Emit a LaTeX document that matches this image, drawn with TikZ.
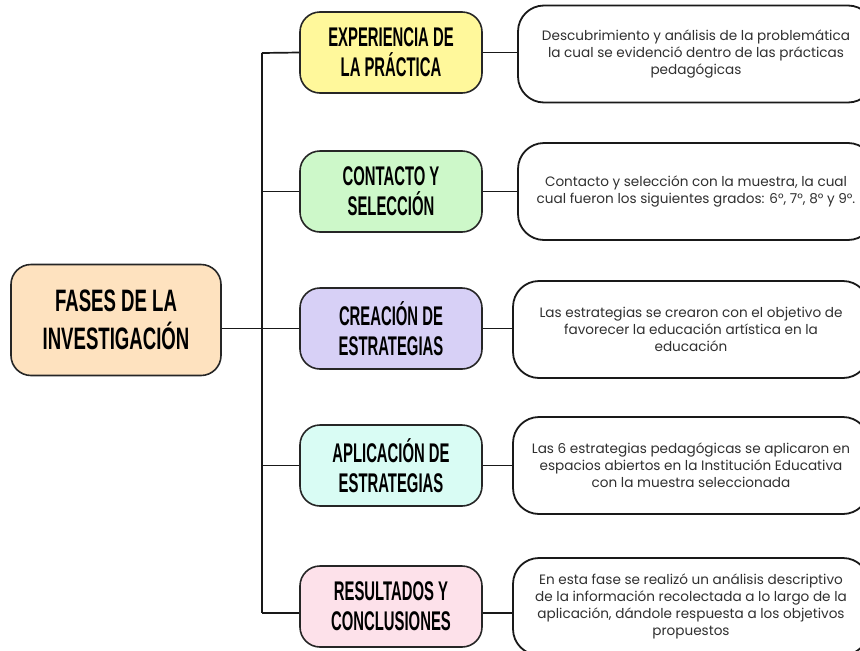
\documentclass[tikz,border=0pt]{standalone}
\usepackage{fontspec}
\setmainfont{Poppins}
\newfontfamily\titlefont[FakeStretch=0.55]{Liberation Sans}
\newfontfamily\maintitlefont[FakeStretch=0.6]{Liberation Sans}
\definecolor{cMain}{HTML}{FEE2BF}
\definecolor{cExp}{HTML}{FFF89B}
\definecolor{cCon}{HTML}{CDF8C9}
\definecolor{cCre}{HTML}{D7D0F6}
\definecolor{cApl}{HTML}{D9FCF4}
\definecolor{cRes}{HTML}{FDE1EA}
\definecolor{txt}{HTML}{303030}
\begin{document}
\begin{tikzpicture}[x=1pt,y=-1pt,
  conn/.style={line width=1.7pt, draw=black!90},
  title/.style={draw=black!85, line width=1.6pt, rounded corners=20pt, minimum width=182pt, minimum height=81pt, align=center, font=\titlefont\bfseries\fontsize{27}{30}\selectfont, inner sep=0pt},
  desc/.style={draw=black!90, line width=1.8pt, rounded corners=26pt, minimum width=356pt, minimum height=97pt, align=center, font=\fontsize{13.6}{17}\selectfont, text=txt, inner sep=0pt}]
\useasboundingbox (0,0) rectangle (860,651);
\fill[white] (0,0) rectangle (860,651);
\clip (0,0) rectangle (860,651);

\node[title, fill=cMain, minimum width=210pt, minimum height=111pt, font=\maintitlefont\bfseries\fontsize{31}{38}\selectfont] (main) at (116,320) {FASES DE LA\\INVESTIGACIÓN};

\node[title, fill=cExp] (exp) at (391,52.5) {EXPERIENCIA DE\\LA PRÁCTICA};
\node[title, fill=cCon] (con) at (391,191.5) {CONTACTO Y\\SELECCIÓN};
\node[title, fill=cCre] (cre) at (391,328.5) {CREACIÓN DE\\ESTRATEGIAS};
\node[title, fill=cApl] (apl) at (391,465.5) {APLICACIÓN DE\\ESTRATEGIAS};
\node[title, fill=cRes] (res) at (391,606.5) {RESULTADOS Y\\CONCLUSIONES};

\node[desc] (dexp) at (696,54) {Descubrimiento y análisis de la problemática\\la cual se evidenció dentro de las prácticas\\pedagógicas};
\node[desc] (dcon) at (696,191.5) {Contacto y selección con la muestra, la cual\\cual fueron los siguientes grados: 6°, 7°, 8° y 9°.};
\node[desc] (dcre) at (691,329.5) {Las estrategias se crearon con el objetivo de\\favorecer la educación artística en la\\educación};
\node[desc] (dapl) at (691,465.5) {Las 6 estrategias pedagógicas se aplicaron en\\espacios abiertos en la Institución Educativa\\con la muestra seleccionada};
\node[desc] (dres) at (691,606.5) {En esta fase se realizó un análisis descriptivo\\de la información recolectada a lo largo de la\\aplicación, dándole respuesta a los objetivos\\propuestos};

\coordinate (top) at (262,53);
\coordinate (bot) at (262,613);
\draw[conn] (top) -- (bot);
\draw[conn] (top) -- (exp.west);
\draw[conn] (con.west -| top) -- (con.west);
\draw[conn] (main.east |- cre.west) -- (cre.west);
\draw[conn] (apl.west -| top) -- (apl.west);
\draw[conn] (bot) -- (bot -| res.west);

\draw[conn] (exp.east) -- (exp.east -| dexp.west);
\draw[conn] (con.east) -- (con.east -| dcon.west);
\draw[conn] (cre.east) -- (cre.east -| dcre.west);
\draw[conn] (apl.east) -- (apl.east -| dapl.west);
\draw[conn] (bot -| res.east) -- (bot -| dres.west);
\end{tikzpicture}
\end{document}
